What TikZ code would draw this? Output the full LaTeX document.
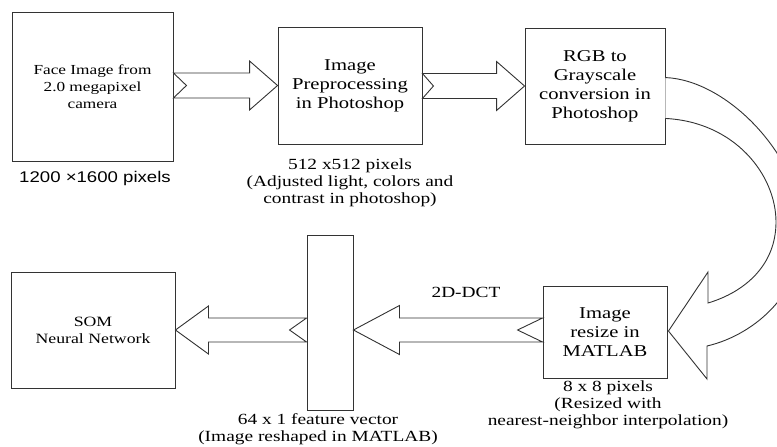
\documentclass[tikz,border=0pt]{standalone}
\usepackage{fontspec}
\usetikzlibrary{calc}
\newfontfamily\wserif[FakeStretch=1.25]{Liberation Serif}
\newfontfamily\wsans[FakeStretch=1.2]{Liberation Sans}
\tikzset{
  box/.style={draw=black!80, line width=0.9pt, fill=white, align=center, inner sep=0pt, text=black},
  lab/.style={align=center, inner sep=0pt, text=black},
  arrowline/.style={draw=black!80, line width=0.9pt, fill=white, line join=miter},
  fbig/.style={font=\wserif\fontsize{16.5}{19}\selectfont},
  fmid/.style={font=\wserif\fontsize{15.5}{17}\selectfont},
  fsmall/.style={font=\wserif\fontsize{13.8}{17}\selectfont},
}
\newcommand\blockarrow[6]{%
  \draw[arrowline] let \p1=(#1), \p2=(#2), \n1={ifthenelse(\x2>\x1,1,-1)} in
   (\x1,\y1+#3pt) -- (\x2-\n1*#5pt,\y1+#3pt) -- (\x2-\n1*#5pt,\y1+#4pt) -- (\x2,\y1)
   -- (\x2-\n1*#5pt,\y1-#4pt) -- (\x2-\n1*#5pt,\y1-#3pt) -- (\x1,\y1-#3pt)
   -- (\x1+\n1*#6pt,\y1) -- cycle;}
\begin{document}
\begin{tikzpicture}[x=1pt,y=-1pt]
\useasboundingbox (0,0) rectangle (777,447);
% boxes
\node[box, fsmall, minimum width=161pt, minimum height=149pt] (b1) at (92.5,86.5) {Face Image from\\2.0 megapixel\\camera};
\node[box, fbig, minimum width=144pt, minimum height=117pt] (b2) at (350,85.5) {Image\\Preprocessing\\in Photoshop};
\node[box, fbig, minimum width=140pt, minimum height=116pt] (b3) at (595,86) {RGB to\\Grayscale\\conversion in\\Photoshop};
\node[box, fbig, minimum width=124pt, minimum height=92pt] (b4) at (605,332) {Image\\resize in\\MATLAB};
\node[box, minimum width=46pt, minimum height=175pt] (vec) at (330,322.5) {};
\node[box, font=\wserif\fontsize{14.2}{17}\selectfont, minimum width=164pt, minimum height=116pt] (som) at (93,330) {SOM\\Neural Network};
% labels
\node[lab, font=\wsans\fontsize{15.5}{17}\selectfont] (l1) at (95,178) {1200 ×1600 pixels};
\node[lab, fmid] (l2) at (350,183) {512 x512 pixels\\(Adjusted light, colors and\\contrast in photoshop)};
\node[lab, fmid] (l4) at (608,405) {8 x 8 pixels\\(Resized with\\nearest-neighbor interpolation)};
\node[lab, font=\wserif\fontsize{15.5}{16.5}\selectfont] (lv) at (318,429) {64 x 1 feature vector\\(Image reshaped in MATLAB)};
\node[lab, fmid] (dct) at (466,292) {2D-DCT};
% block arrows
\blockarrow{b1.east |- b2.west}{b2.west}{12.5}{24.5}{28}{13}
\blockarrow{b2.east |- b3.west}{b3.west |- b2.west}{12.5}{24.5}{28}{11}
\blockarrow{b4.west |- som.east}{vec.east |- som.east}{12}{24.5}{46}{25}
\blockarrow{vec.west |- som.east}{som.east}{12}{24}{33}{17}
% curved arrow
\begin{scope}
\clip (0,0) rectangle (777,447);
\draw[arrowline] ($(b3.north east)+(0,50)$) .. controls (725,80) and (795,150) .. (803,222)
  .. controls (808,290) and (755,335) .. (707,346) -- (707,379) -- ($(b4.east)+(1,-1)$)
  -- (708,272) -- (708,303) .. controls (745,292) and (776,265) .. (776,222)
  .. controls (776,175) and (735,122) .. ($(b3.south east)+(0,-26)$);
\end{scope}
\end{tikzpicture}
\end{document}
